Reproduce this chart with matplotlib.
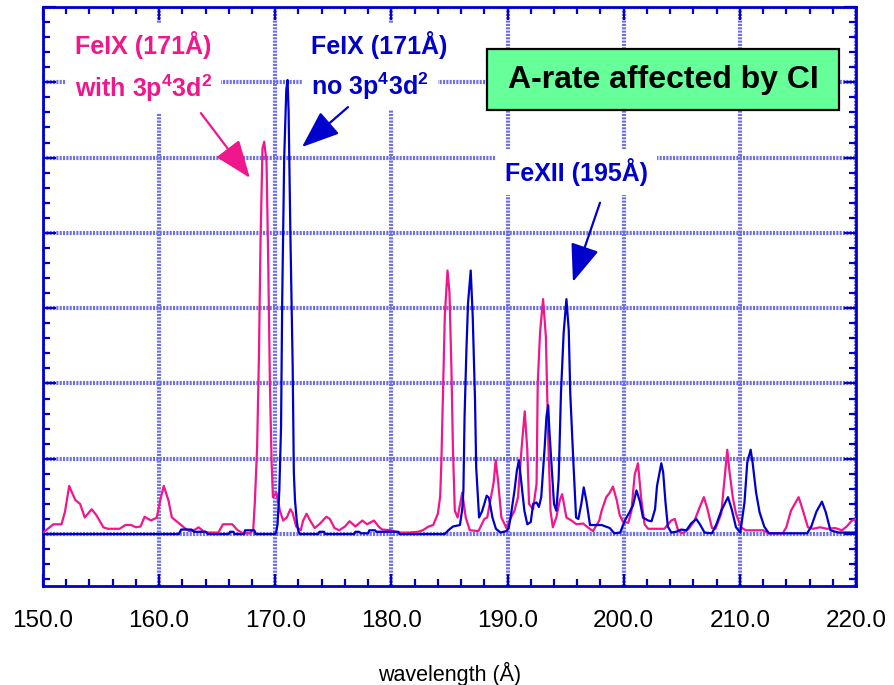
import matplotlib
matplotlib.use("Agg")
import matplotlib.pyplot as plt
from matplotlib.ticker import MultipleLocator, FormatStrFormatter
from matplotlib.patches import Rectangle

plt.rcParams['font.family'] = ['Liberation Sans', 'DejaVu Sans']
plt.rcParams['mathtext.fontset'] = 'custom'
plt.rcParams['mathtext.rm'] = 'Liberation Sans'
plt.rcParams['mathtext.bf'] = 'Liberation Sans:bold'

# ---- data (wavelength in Angstrom, intensity in arbitrary units) ----
with_wl = [150.0, 150.5, 150.9, 151.6, 151.9, 152.26, 152.5, 152.8, 153.2, 153.6, 154.2, 154.6,
           155.2, 155.6, 156.6, 157.1, 157.6, 158.0, 158.4, 158.75, 159.3, 159.8, 160.1, 160.4,
           160.8, 161.1, 161.5, 161.9, 162.2, 162.6, 163.0, 163.4, 163.8, 164.2, 165.1, 165.5,
           166.3, 166.7, 167.2, 167.8, 168.1, 168.24, 168.44, 168.6, 168.73, 168.9, 169.05, 169.25,
           169.4, 169.54, 169.68, 169.8, 170.1, 170.4, 170.68, 171.0, 171.3, 171.5, 171.8, 172.2,
           172.4, 172.7, 173.0, 173.4, 173.86, 174.4, 174.7, 175.1, 175.5, 176.0, 176.4, 176.9,
           177.5, 177.9, 178.5, 178.9, 179.2, 180.0, 180.6, 181.5, 182.3, 182.7, 183.2, 183.6,
           184.0, 184.2, 184.3, 184.45, 184.6, 184.83, 185.0, 185.17, 185.3, 185.46, 185.7, 186.1,
           186.4, 186.75, 187.5, 188.0, 188.25, 188.8, 188.98, 189.2, 189.47, 189.9, 190.3, 190.6,
           190.9, 191.2, 191.48, 191.7, 191.85, 192.2, 192.5, 192.6, 192.8, 193.06, 193.3, 193.5,
           193.7, 193.9, 194.2, 194.5, 194.7, 195.07, 195.5, 195.93, 196.5, 197.07, 197.36, 197.9,
           198.1, 198.5, 198.8, 199.08, 199.4, 199.66, 199.95, 200.4, 200.66, 200.95, 201.23, 201.5,
           201.8, 202.1, 203.5, 204.1, 204.4, 204.7, 205.1, 205.6, 206.1, 206.5, 206.9, 207.2,
           207.6, 207.9, 208.4, 208.7, 208.92, 209.1, 209.4, 209.67, 210.1, 210.5, 212.0, 212.5,
           213.7, 214.0, 214.4, 215.06, 215.4, 215.86, 216.3, 216.9, 217.5, 218.2, 218.8, 219.2,
           219.65, 220.0]
with_val = [0.02, 0.08, 0.13, 0.13, 0.30, 0.64, 0.55, 0.45, 0.40, 0.22, 0.33, 0.25,
            0.09, 0.07, 0.07, 0.12, 0.12, 0.09, 0.10, 0.23, 0.18, 0.22, 0.45, 0.64,
            0.45, 0.22, 0.17, 0.12, 0.08, 0.04, 0.05, 0.09, 0.04, 0.02, 0.02, 0.13,
            0.13, 0.06, 0.01, 0.01, 0.05, 0.41, 1.16, 2.41, 3.87, 5.12, 5.21, 4.94,
            3.56, 2.00, 0.98, 0.49, 0.55, 0.31, 0.18, 0.22, 0.33, 0.28, 0.10, 0.05,
            0.18, 0.27, 0.18, 0.08, 0.14, 0.23, 0.20, 0.08, 0.05, 0.10, 0.17, 0.10,
            0.18, 0.13, 0.18, 0.10, 0.06, 0.05, 0.02, 0.02, 0.03, 0.05, 0.10, 0.12,
            0.27, 0.50, 0.94, 1.92, 2.90, 3.50, 3.21, 2.19, 1.12, 0.31, 0.22, 0.55,
            0.22, 0.05, 0.04, 0.20, 0.22, 0.68, 0.98, 0.68, 0.22, 0.08, 0.22, 0.31,
            0.49, 1.12, 1.63, 1.12, 0.40, 0.33, 0.67, 2.00, 2.68, 3.12, 2.62, 1.29,
            0.31, 0.09, 0.22, 0.45, 0.53, 0.22, 0.18, 0.13, 0.14, 0.07, 0.04, 0.18,
            0.31, 0.49, 0.55, 0.63, 0.45, 0.25, 0.16, 0.15, 0.30, 0.79, 0.94, 0.48,
            0.13, 0.07, 0.07, 0.18, 0.20, 0.04, 0.01, 0.07, 0.18, 0.34, 0.49, 0.34,
            0.08, 0.07, 0.27, 0.76, 1.12, 0.84, 0.48, 0.27, 0.09, 0.05, 0.05, 0.01,
            0.01, 0.09, 0.31, 0.49, 0.33, 0.09, 0.07, 0.09, 0.07, 0.08, 0.05, 0.10,
            0.18, 0.20]

no_wl = [150.0, 161.7, 161.9, 162.8, 163.0, 164.0, 164.2, 166.0, 166.1, 166.4, 166.5, 167.3,
         167.4, 168.2, 168.3, 170.0, 170.1, 170.2, 170.35, 170.5, 170.6, 170.77, 170.95, 171.06,
         171.15, 171.3, 171.5, 171.6, 171.7, 171.85, 171.97, 172.1, 173.7, 173.8, 174.2, 174.3,
         176.8, 176.9, 177.2, 177.4, 178.0, 178.1, 178.6, 178.7, 179.5, 180.6, 180.7, 184.6,
         184.9, 185.3, 185.9, 186.1, 186.2, 186.3, 186.46, 186.6, 186.83, 187.0, 187.2, 187.3,
         187.55, 187.8, 188.0, 188.2, 188.4, 188.7, 189.0, 189.4, 189.9, 190.1, 190.3, 190.6,
         190.8, 190.98, 191.2, 191.45, 191.7, 192.0, 192.2, 192.5, 192.7, 192.9, 193.2, 193.35,
         193.5, 193.6, 193.8, 194.0, 194.2, 194.4, 194.6, 194.83, 195.07, 195.27, 195.4, 195.66,
         195.9, 196.1, 196.35, 196.56, 196.8, 197.1, 198.1, 198.8, 199.2, 199.7, 200.1, 200.5,
         200.8, 201.1, 201.4, 201.66, 202.1, 202.4, 202.7, 202.87, 203.24, 203.4, 203.6, 203.8,
         204.1, 204.5, 204.96, 205.4, 205.8, 206.25, 206.6, 206.96, 207.6, 207.98, 208.4, 208.98,
         209.3, 209.67, 210.04, 210.4, 210.64, 210.93, 211.1, 211.4, 211.7, 212.1, 212.5, 215.8,
         216.15, 216.6, 217.07, 217.4, 217.8, 218.5, 220.0]
no_val = [0.00, 0.00, 0.06, 0.06, 0.03, 0.03, 0.00, 0.00, 0.03, 0.03, 0.00, 0.00,
          0.05, 0.05, 0.00, 0.00, 0.04, 0.13, 0.58, 1.43, 3.12, 4.99, 5.90, 6.03,
          5.61, 4.01, 2.23, 0.82, 0.45, 0.18, 0.05, 0.00, 0.00, 0.03, 0.03, 0.00,
          0.00, 0.03, 0.03, 0.01, 0.01, 0.05, 0.05, 0.03, 0.03, 0.03, 0.00, 0.00,
          0.05, 0.10, 0.12, 0.33, 0.58, 1.56, 2.45, 3.07, 3.50, 2.90, 1.78, 0.89,
          0.22, 0.30, 0.40, 0.51, 0.48, 0.22, 0.07, 0.02, 0.04, 0.08, 0.26, 0.58,
          0.84, 0.98, 0.67, 0.31, 0.13, 0.16, 0.40, 0.42, 0.36, 0.49, 1.16, 1.56,
          1.71, 1.38, 0.89, 0.40, 0.31, 0.73, 1.87, 2.67, 3.12, 2.71, 1.87, 0.98,
          0.22, 0.20, 0.40, 0.62, 0.43, 0.12, 0.12, 0.08, 0.01, 0.02, 0.18, 0.29,
          0.38, 0.58, 0.43, 0.22, 0.18, 0.17, 0.33, 0.64, 0.94, 0.82, 0.42, 0.10,
          0.02, 0.03, 0.06, 0.05, 0.14, 0.20, 0.12, 0.02, 0.01, 0.13, 0.31, 0.49,
          0.33, 0.09, 0.02, 0.42, 0.95, 1.12, 0.95, 0.55, 0.29, 0.10, 0.01, 0.01,
          0.10, 0.30, 0.43, 0.29, 0.05, 0.02, 0.02]

x_ticks = [150, 160, 170, 180, 190, 200, 210, 220]

PINK = '#f0168c'
BLUE = '#0000cc'
GRID = '#7070e6'

fig = plt.figure(figsize=(8.95, 6.85), dpi=100)
ax = fig.add_axes([0.0480, 0.1445, 0.9084, 0.8453])

ax.set_xlim(150, 220)
ax.set_ylim(-0.69, 7.0)

ax.xaxis.set_major_locator(MultipleLocator(10))
ax.xaxis.set_minor_locator(MultipleLocator(2))
ax.yaxis.set_major_locator(MultipleLocator(1))
ax.yaxis.set_minor_locator(MultipleLocator(0.2))
ax.xaxis.set_major_formatter(FormatStrFormatter('%.1f'))
ax.set_xticks(x_ticks)

ax.tick_params(which='both', direction='in', top=True, right=True, color=BLUE, width=1.6)
ax.tick_params(which='major', length=9)
ax.tick_params(which='minor', length=5)
ax.tick_params(axis='x', which='major', labelsize=17.5, pad=17, labelcolor='black')
ax.tick_params(axis='y', which='both', labelleft=False)

for s in ax.spines.values():
    s.set_color(BLUE)
    s.set_linewidth(2.0)

ax.grid(True, which='major', color=GRID, linewidth=3.0, linestyle=(0, (0.5, 0.3)), zorder=0)
ax.set_axisbelow(True)

ax.plot(with_wl, with_val, color=PINK, lw=1.6, zorder=3)
ax.plot(no_wl, no_val, color=BLUE, lw=1.6, zorder=4)

ax.set_xlabel('wavelength (Å)', fontsize=15.5, labelpad=22)

bb = dict(facecolor='white', edgecolor='none', boxstyle='square,pad=0.35')
ax.text(152.76, 6.49, 'FeIX (171Å)', color=PINK, fontsize=18, fontweight='bold',
        ha='left', va='center', bbox=bb, zorder=5)
ax.text(152.76, 5.92, r'with 3p$^{\mathbf{4}}$3d$^{\mathbf{2}}$', color=PINK, fontsize=18,
        fontweight='bold', ha='left', va='center', bbox=bb, zorder=5)
ax.text(173.08, 6.49, 'FeIX (171Å)', color=BLUE, fontsize=18, fontweight='bold',
        ha='left', va='center', bbox=bb, zorder=5)
ax.text(173.08, 5.95, r'no 3p$^{\mathbf{4}}$3d$^{\mathbf{2}}$', color=BLUE, fontsize=18,
        fontweight='bold', ha='left', va='center', bbox=bb, zorder=5)
ax.text(189.78, 4.81, 'FeXII (195Å)', color=BLUE, fontsize=18, fontweight='bold',
        ha='left', va='center', bbox=bb, zorder=5)

ax.add_patch(Rectangle((188.23, 5.63), 30.31, 0.81, facecolor='#66ff99',
                       edgecolor='black', linewidth=1.6, zorder=6))
ax.text(203.38, 6.035, 'A-rate affected by CI', color='black', fontsize=23,
        fontweight='bold', ha='center', va='center', zorder=7)

def arrow(start, tip, color):
    ax.annotate('', xy=tip, xytext=start,
                arrowprops=dict(arrowstyle='-|>,head_length=1.3,head_width=0.5',
                                color=color, lw=1.6, shrinkA=0, shrinkB=0,
                                mutation_scale=18),
                zorder=6)

arrow((163.6, 5.59), (167.82, 4.73), PINK)
arrow((176.26, 5.67), (172.3, 5.14), BLUE)
arrow((197.96, 4.40), (195.63, 3.35), BLUE)

fig.savefig('out.png', dpi=100)
